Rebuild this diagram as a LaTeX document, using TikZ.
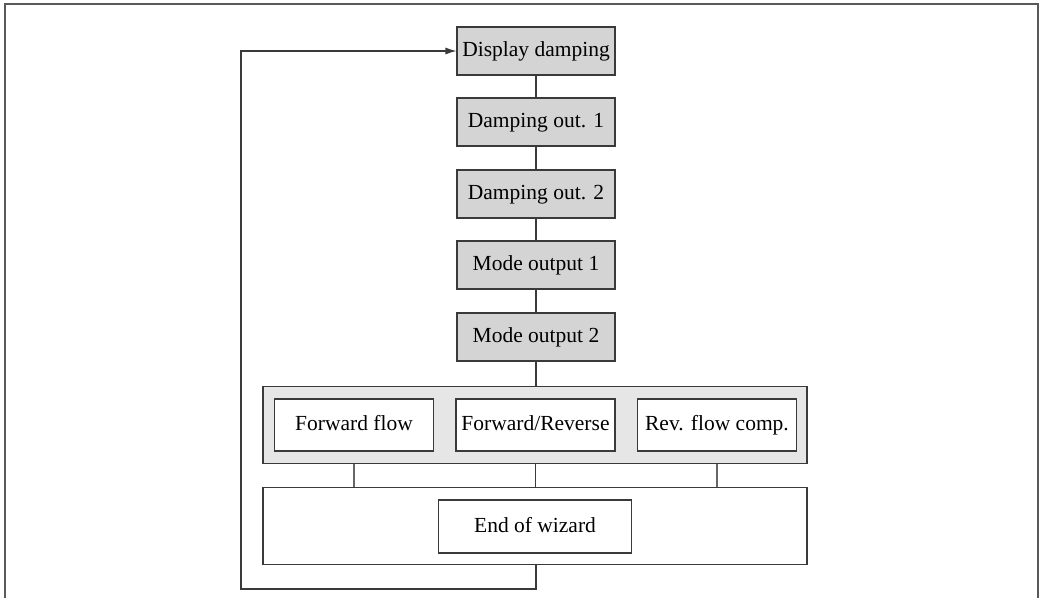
\documentclass[tikz,border=0pt]{standalone}
\usepackage{fontspec}
\setmainfont{Liberation Serif}
\usetikzlibrary{arrows.meta}
\definecolor{boxgray}{HTML}{D4D4D4}
\definecolor{contgray}{HTML}{E6E6E7}
\definecolor{linegray}{HTML}{3A3A3A}
\begin{document}
\begin{tikzpicture}[x=1pt,y=-1pt,
  every node/.style={font=\fontsize{21.5}{26}\selectfont, inner sep=0pt, align=center, text height=14.5pt, text depth=3.5pt},
  graybox/.style={draw=linegray, line width=1.1pt, fill=boxgray, minimum width=158pt, minimum height=48pt},
  whitebox/.style={draw=linegray, line width=1.1pt, fill=white, minimum width=159pt, minimum height=52pt},
  container/.style={draw=linegray, line width=1.1pt, minimum width=544pt, minimum height=77pt},
  conn/.style={draw=linegray, line width=1.1pt}]
\useasboundingbox (0,0) rectangle (1043,598);
\draw[draw=gray!70!black, line width=1.2pt] (5,598) -- (5,4) -- (1038,4) -- (1038,598);
% containers
\node[container, fill=contgray] (cont) at (535,425) {};
\node[container, fill=white] (endc) at (535,526) {};
% gray boxes
\node[graybox] (dd) at (536,51) {Display damping};
\node[graybox] (d1) at (536,122) {Damping out. 1};
\node[graybox] (d2) at (536,194) {Damping out. 2};
\node[graybox] (m1) at (536,265) {Mode output 1};
\node[graybox] (m2) at (536,337) {Mode output 2};
% inner boxes
\node[whitebox] (ff) at (354,425) {Forward flow};
\node[whitebox] (fr) at (535.5,425) {Forward/Reverse};
\node[whitebox] (rf) at (717,425) {Rev. flow comp.};
\node[whitebox, minimum width=193pt, minimum height=53pt] (ew) at (535,526.5) {End of wizard};
% connectors
\draw[conn] (dd) -- (d1);
\draw[conn] (d1) -- (d2);
\draw[conn] (d2) -- (m1);
\draw[conn] (m1) -- (m2);
\draw[conn] (m2.south) -- (m2.south |- cont.north);
\draw[conn, draw=gray!80!black] (cont.south -| ff) -- (endc.north -| ff);
\draw[conn] (cont.south -| fr) -- (endc.north -| fr);
\draw[conn, draw=gray!80!black] (cont.south -| rf) -- (endc.north -| rf);
\coordinate (r1) at (536,589);
\coordinate (r2) at (241,589);
\coordinate (r3) at (241,51);
\draw[conn, -{Latex[length=11pt,width=7pt]}] (endc.south -| r1) -- (r1) -- (r2) -- (r3) -- (dd.west);
\end{tikzpicture}
\end{document}
